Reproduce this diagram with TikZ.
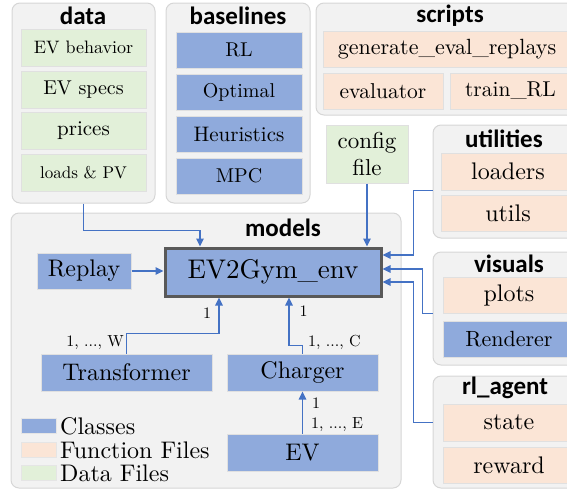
\documentclass[tikz,border=0pt]{standalone}
\usepackage{fontspec}
\setmainfont{lmroman10-regular.otf}[BoldFont=lmroman10-bold.otf]
\newfontfamily\titlefont{Carlito}
\usetikzlibrary{positioning}
\usetikzlibrary{arrows.meta}
\definecolor{clsblue}{HTML}{8FAADC}
\definecolor{fnorange}{HTML}{FBE5D6}
\definecolor{datagreen}{HTML}{E2F0D9}
\definecolor{linkblue}{HTML}{4472C4}
\definecolor{groupgray}{HTML}{F2F2F2}
\definecolor{groupline}{HTML}{D6D6D6}
\definecolor{envline}{HTML}{595959}
\newcommand{\fsz}[1]{\fontsize{#1}{#1}\selectfont}
\tikzset{
  group/.style={draw=groupline, fill=groupgray, rounded corners=8pt, line width=1pt, inner sep=0pt},
  grouptitle/.style={font=\titlefont\bfseries\fsz{25}, inner sep=0pt},
  classbox/.style={draw=black!12, fill=clsblue, line width=1pt, inner sep=0pt},
  fnbox/.style={draw=black!12, fill=fnorange, line width=1pt, inner sep=0pt},
  databox/.style={draw=black!12, fill=datagreen, line width=1pt, inner sep=0pt},
  swatch/.style={draw=black!10, line width=0.6pt, minimum width=35, minimum height=15, inner sep=0pt},
  legendtext/.style={anchor=west, font=\fsz{24}, inner sep=0pt},
  link/.style={draw=linkblue, line width=1.4pt, -{Triangle[length=8pt,width=7.5pt]}},
  mult/.style={font=\fsz{16}, inner sep=0pt},
}

\begin{document}
\begin{tikzpicture}[x=1pt, y=-1pt]
  \useasboundingbox (0,0) rectangle (567,491);
  \clip (0,0) rectangle (567,491);

  % groups
  \node[group, minimum width=143, minimum height=200] (data) at (83.5,103) {};
  \node[group, minimum width=144, minimum height=200] (baselines) at (238,103) {};
  \node[group, minimum width=264, minimum height=112] (scripts) at (448,59) {};
  \node[group, minimum width=150, minimum height=113] (utilities) at (508,181.5) {};
  \node[group, minimum width=390, minimum height=275] (models) at (206,350.5) {};
  \node[group, minimum width=150, minimum height=113] (visuals) at (508,308.5) {};
  \node[group, minimum width=150, minimum height=112] (rlagent) at (508,432) {};

  \node[grouptitle] (datatitle) at (83,16) {data};
  \node[grouptitle] (baselinestitle) at (238,16) {baselines};
  \node[grouptitle] (scriptstitle) at (450,16) {scripts};
  \node[grouptitle] (utilitiestitle) at (504,139) {utilities};
  \node[grouptitle] (modelstitle) at (283,228) {models};
  \node[grouptitle] (visualstitle) at (509,264) {visuals};
  \node[grouptitle] (rlagenttitle) at (505,388) {rl\_agent};

  % data
  \node[databox, minimum width=125, minimum height=37, font=\fsz{18}] (behavior) at (83.5,47.5) {EV behavior};
  \node[databox, minimum width=125, minimum height=37, font=\fsz{20}] (specs) at (83.5,89.5) {EV specs};
  \node[databox, minimum width=125, minimum height=37, font=\fsz{21}] (prices) at (83.5,131) {prices};
  \node[databox, minimum width=125, minimum height=37, font=\fsz{17}] (loads) at (83.5,173) {loads \& PV};

  % baselines
  \node[classbox, minimum width=126, minimum height=36, font=\fsz{20}] (rl) at (239,50) {RL};
  \node[classbox, minimum width=126, minimum height=36, font=\fsz{20}] (optimal) at (239,92) {Optimal};
  \node[classbox, minimum width=126, minimum height=36, font=\fsz{21}] (heuristics) at (239,134) {Heuristics};
  \node[classbox, minimum width=126, minimum height=36, font=\fsz{20}] (mpc) at (239,176) {MPC};

  % scripts
  \node[fnbox, minimum width=248, minimum height=36, font=\fsz{22}] (generate) at (447,49) {generate\_eval\_replays};
  \node[fnbox, minimum width=120, minimum height=36, font=\fsz{21.5}] (evaluator) at (383,91) {evaluator};
  \node[fnbox, minimum width=121, minimum height=36, font=\fsz{21.5}] (train) at (510.5,91) {train\_RL};

  % config
  \node[databox, minimum width=82, minimum height=58, align=center, font=\fontsize{23}{27}\selectfont] (config) at (367,154) {config\\file};

  % utilities
  \node[fnbox, minimum width=134, minimum height=37, font=\fsz{24}] (loaders) at (508,171.5) {loaders};
  \node[fnbox, minimum width=134, minimum height=36, font=\fsz{24}] (utils) at (508,213) {utils};

  % visuals
  \node[fnbox, minimum width=132, minimum height=36, font=\fsz{24}] (plots) at (509,295) {plots};
  \node[classbox, minimum width=132, minimum height=36, font=\fsz{22}] (renderer) at (509,339) {Renderer};

  % rl_agent
  \node[fnbox, minimum width=132, minimum height=37, font=\fsz{24}] (state) at (509,422.5) {state};
  \node[fnbox, minimum width=132, minimum height=36, font=\fsz{24}] (reward) at (509,465) {reward};

  % models
  \node[classbox, draw=envline, line width=3pt, minimum width=216, minimum height=48, font=\fsz{27}] (env) at (273,272) {EV2Gym\_env};
  \node[classbox, minimum width=94, minimum height=36, font=\fsz{24}] (replay) at (84,271) {Replay};
  \node[classbox, minimum width=171, minimum height=37, font=\fsz{24}] (transformer) at (126.5,372.5) {Transformer};
  \node[classbox, minimum width=151, minimum height=37, font=\fsz{24}] (charger) at (302.5,372.5) {Charger};
  \node[classbox, minimum width=151, minimum height=37, font=\fsz{24}] (ev) at (302.5,452.5) {EV};

  % legend
  \node[swatch, fill=clsblue] (clsswatch) at (38.5,425.5) {};
  \node[swatch, fill=fnorange] (fnswatch) at (38.5,449.5) {};
  \node[swatch, fill=datagreen] (dataswatch) at (38.5,472.5) {};
  \node[legendtext] (clstext) at (60,426) {Classes};
  \node[legendtext] (fntext) at (60,450) {Function Files};
  \node[legendtext] (datatext) at (60,473) {Data Files};

  % connectors
  \draw[link] (data.south) -- ++(0,27) -| ([xshift=-73pt]env.north);
  \draw[link] (config.south) -- (config.south |- env.north);
  \draw[link] (loaders.south -| utilities.west) -- ++(-19,0) |- ([yshift=17pt]env.east);
  \draw[link] (plots.south -| visuals.west) -- ++(-10,0) |- ([yshift=3pt]env.east);
  \draw[link] (state.west -| rlagent.west) -- ++(-19,0) |- ([yshift=-10pt]env.east);
  \draw[link] (replay.east) -- (replay.east -| env.west);
  \draw[link] (transformer.north) -- ++(0,-20) -| ([xshift=-54pt]env.south);
  \draw[link] (charger.north) -- ++(0,-8) -| ([xshift=16pt]env.south);
  \draw[link] (ev.north) -- (charger.south);

  % multiplicities
  \node[mult] (tone) at (207,313) {1};
  \node[mult, anchor=east] (tmany) at (124,343) {1, ..., W};
  \node[mult] (cone) at (303.5,311) {1};
  \node[mult, anchor=west] (cmany) at (308,342) {1, ..., C};
  \node[mult] (eone) at (316,403) {1};
  \node[mult, anchor=west] (emany) at (311,425) {1, ..., E};
\end{tikzpicture}
\end{document}
